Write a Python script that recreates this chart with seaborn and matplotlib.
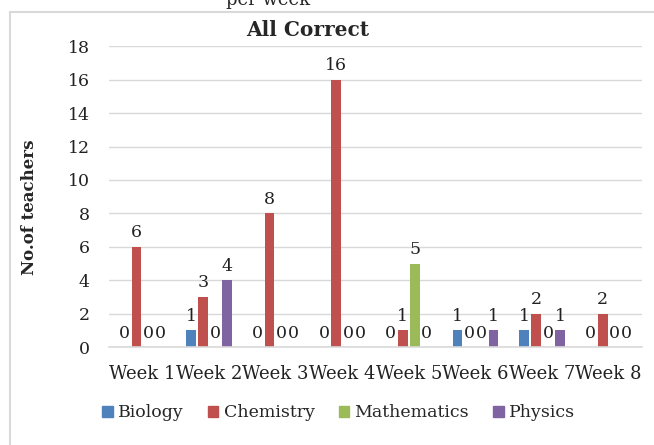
import pandas as pd
import matplotlib.pyplot as plt
import matplotlib.patches as mpatches
import seaborn as sns

# values
weeks = ['Week 1', 'Week 2', 'Week 3', 'Week 4', 'Week 5', 'Week 6', 'Week 7', 'Week 8']
biology = [0, 1, 0, 0, 0, 1, 1, 0]
chemistry = [6, 3, 8, 16, 1, 0, 2, 2]
mathematics = [0, 0, 0, 0, 5, 0, 0, 0]
physics = [0, 4, 0, 0, 0, 1, 1, 0]
subjects = ['Biology', 'Chemistry', 'Mathematics', 'Physics']
colors = ['#4F81BD', '#C0504D', '#9BBB59', '#8064A2']

df = pd.DataFrame({'week': weeks, 'Biology': biology, 'Chemistry': chemistry,
                   'Mathematics': mathematics, 'Physics': physics})
long = df.melt(id_vars='week', var_name='subject', value_name='teachers')

sns.set_style('white')
plt.rcParams['font.family'] = ['DejaVu Serif']

fig = plt.figure(figsize=(6.54, 4.45), dpi=100)
ax = fig.add_axes([0.1667, 0.22, 0.815, 0.676])

sns.barplot(data=long, x='week', y='teachers', hue='subject', hue_order=subjects,
            palette=colors, saturation=1, width=0.72, gap=0.2, linewidth=0,
            ax=ax, legend=False)

for c in ax.containers:
    ax.bar_label(c, fmt='%g', padding=4, fontsize=12.5, color='#222222')

ax.set_ylim(0, 18)
ax.set_yticks(range(0, 19, 2))
ax.yaxis.grid(True, color='#d9d9d9', linewidth=1)
ax.set_axisbelow(True)
for s in ['top', 'right', 'left']:
    ax.spines[s].set_visible(False)
ax.spines['bottom'].set_color('#d9d9d9')
ax.spines['bottom'].set_linewidth(1.2)
ax.tick_params(axis='both', length=0, labelsize=12.5, colors='#222222')
ax.tick_params(axis='x', labelsize=13, pad=13)
ax.tick_params(axis='y', pad=14)
ax.set_xlabel('')
ax.set_ylabel('No.of teachers', fontsize=12, fontweight='bold')
ax.yaxis.set_label_coords(-0.133, 0.465)
fig.text(0.47, 0.933, 'All Correct', ha='center', va='center', fontsize=14.5,
         fontweight='bold')

handles = [mpatches.Patch(color=c, label=s) for c, s in zip(colors, subjects)]
fig.legend(handles=handles, loc='center', bbox_to_anchor=(0.518, 0.072), ncol=4,
           frameon=False, fontsize=12.5, handlelength=0.6, handleheight=0.6,
           handletextpad=0.3, columnspacing=1.4)

# outer chart frame and the clipped caption above it
fig.patches.append(mpatches.Rectangle((0.016, -0.05), 1.05, 1.023, transform=fig.transFigure,
                                      fill=False, edgecolor='#d9d9d9', linewidth=1.5))
fig.text(0.41, 1.0, 'per week', ha='center', va='center', fontsize=13)

plt.savefig('out.png', dpi=100)
